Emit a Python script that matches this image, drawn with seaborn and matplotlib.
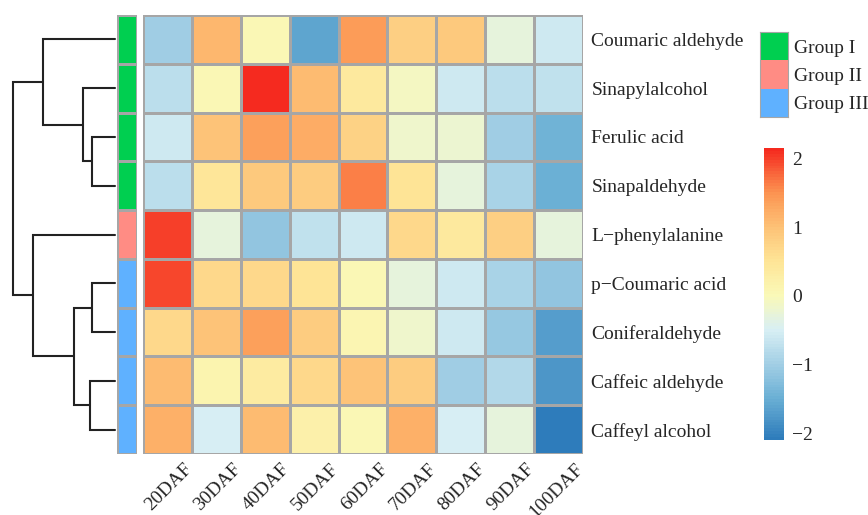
import numpy as np
import pandas as pd
import matplotlib
matplotlib.use("Agg")
import matplotlib.pyplot as plt
import matplotlib.transforms as mtransforms
import seaborn as sns
from matplotlib.colors import LinearSegmentedColormap, ListedColormap

compounds = ["Coumaric aldehyde", "Sinapylalcohol", "Ferulic acid", "Sinapaldehyde",
             "L\u2212phenylalanine", "p\u2212Coumaric acid", "Coniferaldehyde",
             "Caffeic aldehyde", "Caffeyl alcohol"]
stages = ["20DAF", "30DAF", "40DAF", "50DAF", "60DAF", "70DAF", "80DAF", "90DAF", "100DAF"]

coumaric_aldehyde = [-1.0, 1.1, 0.05, -1.6, 1.4, 0.8, 0.9, -0.3, -0.6]
sinapylalcohol = [-0.75, 0.05, 2.15, 1.05, 0.4, -0.1, -0.6, -0.75, -0.7]
ferulic_acid = [-0.6, 1.0, 1.35, 1.25, 0.75, -0.15, -0.2, -1.0, -1.45]
sinapaldehyde = [-0.75, 0.45, 0.9, 0.85, 1.6, 0.5, -0.3, -0.95, -1.5]
l_phenylalanine = [2.0, -0.3, -1.15, -0.7, -0.6, 0.7, 0.4, 0.8, -0.3]
p_coumaric_acid = [1.95, 0.7, 0.7, 0.5, 0.05, -0.3, -0.6, -0.95, -1.15]
coniferaldehyde = [0.7, 1.0, 1.35, 0.85, 0.1, -0.15, -0.6, -1.1, -1.7]
caffeic_aldehyde = [1.05, 0.15, 0.35, 0.7, 1.0, 0.85, -1.0, -0.85, -1.8]
caffeyl_alcohol = [1.2, -0.5, 1.05, 0.2, 0.05, 1.2, -0.5, -0.3, -2.1]

groups = ["Group I", "Group II", "Group III"]
row_group = [0, 0, 0, 0, 1, 2, 2, 2, 2]
group_colors = ["#00CF50", "#FF8C84", "#5FB1FF"]

# row dendrogram: (left id, right id, height); leaves are 0..8, new clusters 9..
merges = [(2, 3, 23), (1, 9, 32), (0, 10, 72), (5, 6, 23), (7, 8, 25),
          (12, 13, 41), (4, 14, 82), (11, 15, 102)]

df = pd.DataFrame([coumaric_aldehyde, sinapylalcohol, ferulic_acid, sinapaldehyde,
                   l_phenylalanine, p_coumaric_acid, coniferaldehyde,
                   caffeic_aldehyde, caffeyl_alcohol], index=compounds, columns=stages)

vmin, vmax = -2.1, 2.15
anchors = [(-2.1, "#2E7CBB"), (-1.5, "#6BB0D5"), (-1.0, "#A3CFE5"), (-0.5, "#D8EFF4"),
           (0.0, "#FAF9B8"), (0.5, "#FEE597"), (1.0, "#FDC277"), (1.5, "#FC9552"),
           (2.15, "#F52A1F")]
cmap = LinearSegmentedColormap.from_list(
    "hm", [((v - vmin) / (vmax - vmin), c) for v, c in anchors], N=100)

sns.set_style("white")
plt.rcParams["font.family"] = ["Liberation Serif", "DejaVu Serif"]

W, H = 868, 515
fig = plt.figure(figsize=(W / 100, H / 100), dpi=100)


def box(x0, y0, x1, y1):
    return [x0 / W, (H - y1) / H, (x1 - x0) / W, (y1 - y0) / H]


grid = "#A6A6A6"
ax = fig.add_axes(box(143, 15, 583, 454))
cax = fig.add_axes(box(764, 148, 784, 440))
sns.heatmap(df, ax=ax, cmap=cmap, vmin=vmin, vmax=vmax, linewidths=1, linecolor=grid,
            cbar_ax=cax)
ax.yaxis.tick_right()
ax.set_yticklabels(compounds, rotation=0, fontsize=14)
ax.set_xticklabels(stages, rotation=45, ha="right", rotation_mode="anchor", fontsize=14)
ax.tick_params(length=0)
ax.tick_params(axis="y", pad=6)
ax.tick_params(axis="x", pad=4)
shift = mtransforms.ScaledTranslation(0.16, -0.01, fig.dpi_scale_trans)
for lab in ax.get_xticklabels():
    lab.set_transform(lab.get_transform() + shift)
ax.set_xlabel("")
ax.set_ylabel("")

cbar = ax.collections[0].colorbar
cbar.outline.set_visible(False)
cbar.set_ticks([-2, -1, 0, 1, 2])
cax.tick_params(length=0, labelsize=14, pad=6)

# annotation column
aax = fig.add_axes(box(117, 15, 137, 454))
sns.heatmap(pd.DataFrame({"g": row_group}), ax=aax, cmap=ListedColormap(group_colors),
            vmin=-0.5, vmax=2.5, cbar=False, linewidths=1, linecolor=grid,
            xticklabels=False, yticklabels=False)

# group legend
lax = fig.add_axes(box(760, 32, 788, 117))
sns.heatmap(pd.DataFrame({"g": [0, 1, 2]}, index=groups), ax=lax,
            cmap=ListedColormap(group_colors), vmin=-0.5, vmax=2.5, cbar=False,
            linewidths=0, xticklabels=False)
for s in lax.spines.values():
    s.set_visible(True)
    s.set_color(grid)
lax.yaxis.tick_right()
lax.set_yticklabels(groups, rotation=0, fontsize=14)
lax.tick_params(length=0, pad=4)
lax.set_ylabel("")

# dendrogram
dax = fig.add_axes(box(13, 15, 115, 454))
pos = {i: i + 0.5 for i in range(len(compounds))}
hgt = {i: 0 for i in range(len(compounds))}
for k, (a, b, h) in enumerate(merges):
    dax.plot([hgt[a], h, h, hgt[b]], [pos[a], pos[a], pos[b], pos[b]],
             color="#222222", lw=1.5, clip_on=False, solid_joinstyle="miter")
    pos[len(compounds) + k] = (pos[a] + pos[b]) / 2
    hgt[len(compounds) + k] = h
dax.set_xlim(102, 0)
dax.set_ylim(len(compounds), 0)
dax.axis("off")

fig.savefig("out.png", dpi=100)
